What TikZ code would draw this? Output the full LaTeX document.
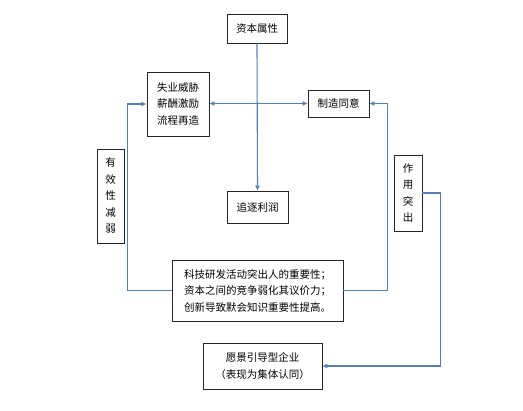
\documentclass[tikz,border=0pt]{standalone}
\usepackage{fontspec}
\setmainfont{Noto Sans CJK SC}
\usetikzlibrary{arrows.meta, calc, positioning}

\definecolor{linkblue}{RGB}{79,129,189}

\tikzset{
  box/.style={draw=black!85, line width=0.7pt, fill=white, align=center,
              inner sep=0pt, font=\fontsize{10.5}{16.5}\selectfont},
  link/.style={draw=linkblue, line width=1.1pt},
  tip/.style={-{Latex[length=5pt,width=5pt]}}
}

\begin{document}
\begin{tikzpicture}[x=1pt, y=-1pt]

\useasboundingbox (0,0) rectangle (523,411);

% Boxes
\node[box, minimum width=60pt, minimum height=29pt] (zb) at (257,28.5) {资本属性};
\node[box, minimum width=62pt, minimum height=64pt] (sy) at (178,104) {失业威胁\\薪酬激励\\流程再造};
\node[box, minimum width=61pt, minimum height=27pt] (zy) at (338.5,103.5) {制造同意};
\node[box, minimum width=61pt, minimum height=32pt] (zz) at (257.5,207) {追逐利润};
\node[box, minimum width=27pt, minimum height=94pt] (yx) at (110.5,196) {有\\效\\性\\减\\弱};
\node[box, minimum width=28pt, minimum height=76pt] (zt) at (408,193) {作\\用\\突\\出};
\node[box, minimum width=171pt, minimum height=61pt] (km) at (257.5,290.5)
  {科技研发活动突出人的重要性；\\资本之间的竞争弱化其议价力；\\创新导致默会知识重要性提高。};
\node[box, minimum width=119pt, minimum height=46pt] (yj) at (262.5,366) {愿景引导型企业\\（表现为集体认同）};

% Connectors
\draw[link, tip] (zb.south) -- (zz.north);
\draw[link, {Latex[length=5pt,width=5pt]}-{Latex[length=5pt,width=5pt]}] (sy.east |- zy.west) -- (zy.west);
\draw[link, tip] (km.west) -- ++(-44,0) |- (sy.west);
\draw[link, tip] (km.east) -- ++(44,0) |- (zy.east);
\draw[link, tip] (zt.east) -- ++(18,0) |- (yj.east);

\end{tikzpicture}
\end{document}
